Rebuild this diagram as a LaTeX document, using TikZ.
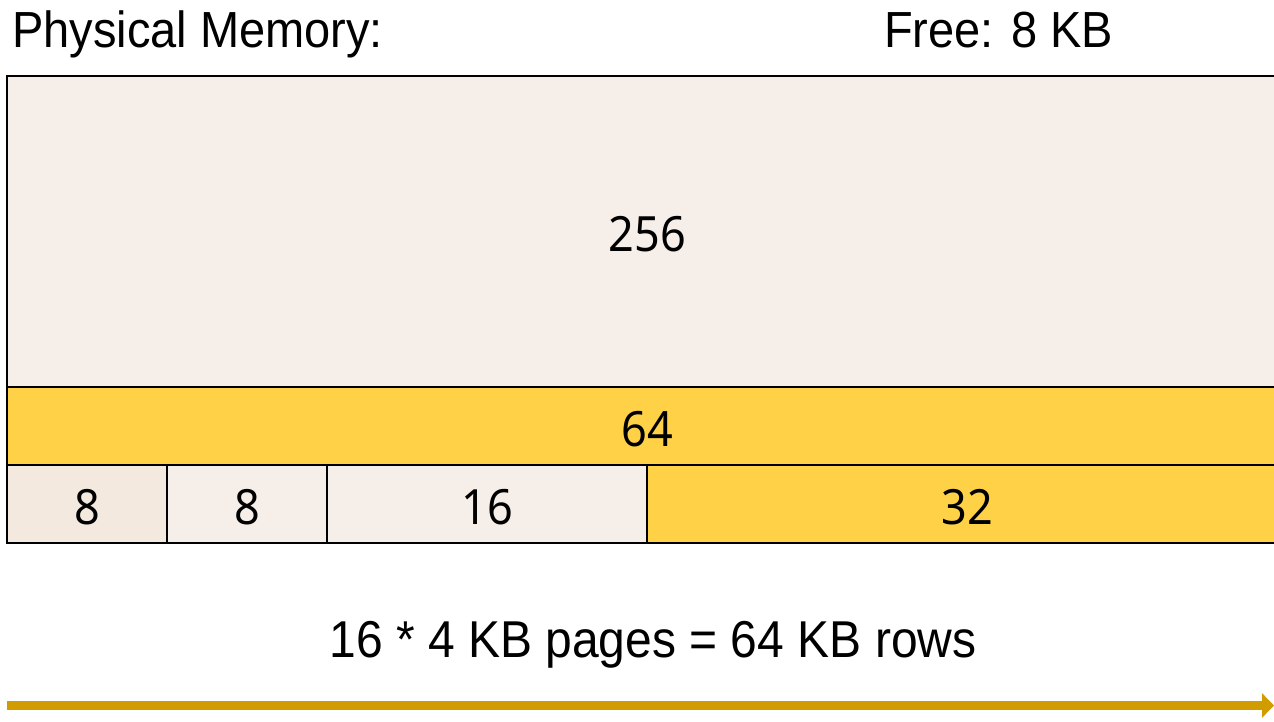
\documentclass[tikz,border=0pt]{standalone}
\usepackage{fontspec}
\setmainfont{Liberation Sans}
\newfontfamily\cellfont{Noto Sans}
\usetikzlibrary{arrows.meta}

\definecolor{memfree}{HTML}{F6EEE8}
\definecolor{memfreedark}{HTML}{F3E9DF}
\definecolor{memused}{HTML}{FFD147}
\definecolor{axisgold}{HTML}{D09C00}

% text is set slightly taller than its natural shape
\newcommand{\tallish}[1]{\scalebox{1}[1.08]{#1}}

\tikzset{
  block/.style={draw=black, line width=2pt, inner sep=0pt, outer sep=0pt,
                anchor=north west, font=\cellfont\fontsize{45}{50}\selectfont,
                execute at begin node=\tallish\bgroup, execute at end node=\egroup},
  freeblock/.style={block, fill=memfree},
  usedblock/.style={block, fill=memused},
  caption/.style={font=\fontsize{47}{52}\selectfont, inner sep=0pt, anchor=base west},
  axis/.style={draw=axisgold, line width=8.5pt, -{Triangle[length=12pt,width=24pt]}}
}

\begin{document}
\begin{tikzpicture}[x=1pt, y=-1pt]
  \useasboundingbox (0,0) rectangle (1274,721);
  \clip (0,0) rectangle (1274,721);

  % headings
  \node[caption] (title) at (12,47) {\tallish{Physical Memory:}};
  \node[caption] (free) at (884,47) {\tallish{Free: 8 KB}};

  % memory blocks (KB)
  \node[freeblock, minimum width=1283pt, minimum height=311pt] (b256) at (7,76) {};
  \node[usedblock, minimum width=1283pt, minimum height=78pt] (b64) at (7,387) {};
  \node[freeblock, fill=memfreedark, minimum width=160pt, minimum height=78pt] (b8a) at (7,465) {};
  \node[freeblock, minimum width=160pt, minimum height=78pt] (b8b) at (167,465) {};
  \node[freeblock, minimum width=320pt, minimum height=78pt] (b16) at (327,465) {};
  \node[usedblock, minimum width=643pt, minimum height=78pt] (b32) at (647,465) {};

  % block sizes, set a little below each block's centre
  \tikzset{size/.style={font=\cellfont\fontsize{45}{50}\selectfont, inner sep=0pt, yshift=-3pt}}
  \node[size] (l256) at ([xshift=-1pt]b256.center) {\tallish{256}};
  \node[size] (l64) at ([xshift=-1pt]b64.center) {\tallish{64}};
  \node[size] (l8a) at (b8a.center) {\tallish{8}};
  \node[size] (l8b) at (b8b.center) {\tallish{8}};
  \node[size] (l16) at (b16.center) {\tallish{16}};
  \node[size] (l32) at ([xshift=-1pt]b32.center) {\tallish{32}};

  % row size note and address axis
  \node[font=\fontsize{48}{52}\selectfont, inner sep=0pt, anchor=base] (rows) at (653,657)
    {\tallish{16 * 4 KB pages = 64 KB rows}};
  \coordinate (axisstart) at (7,705.5);
  \coordinate (axisend) at (1274,705.5);
  \draw[axis] (axisstart) -- (axisend);
\end{tikzpicture}
\end{document}
